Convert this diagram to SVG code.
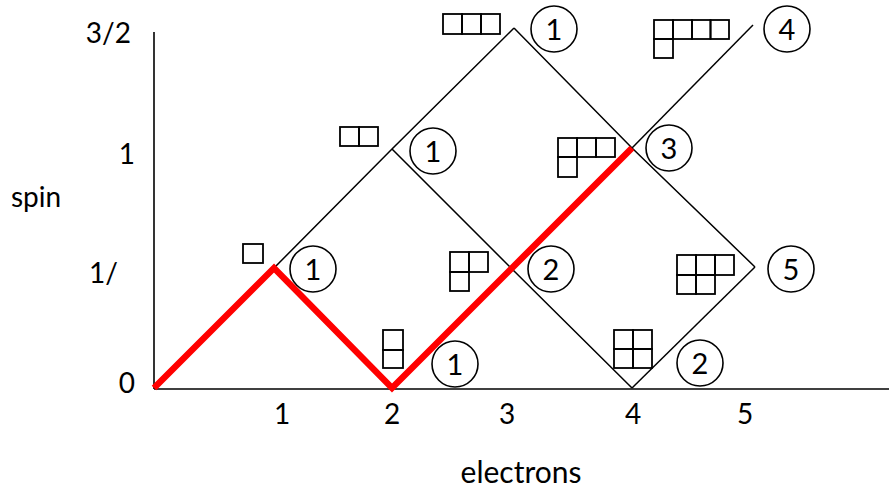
<svg xmlns="http://www.w3.org/2000/svg" width="889" height="491" viewBox="0 0 889 491">
<style>
.t{font-family:Lato,"Liberation Sans",sans-serif;font-size:28px;fill:#000}
.c{font-family:Lato,"Liberation Sans",sans-serif;font-size:29px;fill:#000;text-anchor:middle}
.ring{fill:none;stroke:#000;stroke-width:1.6}
.box{fill:none;stroke:#000;stroke-width:1.8}
.edge{fill:none;stroke:#000;stroke-width:1.5}
.red{fill:none;stroke:#ff0000;stroke-width:6.5;stroke-linejoin:miter}
.axis{fill:none;stroke:#000;stroke-width:1.6}
</style>
<rect width="889" height="491" fill="#fff"/>
<g id="axes">
<line class="axis" x1="154" y1="32" x2="154" y2="389"/>
<line class="axis" x1="154" y1="389" x2="889" y2="389"/>
<text class="t" x="131" y="43" text-anchor="end">3/2</text>
<text class="t" x="135" y="164" text-anchor="end">1</text>
<text class="t" x="11" y="207">spin</text>
<text class="t" x="118" y="283" text-anchor="end">1/</text>
<text class="t" x="135" y="393" text-anchor="end">0</text>
<text class="t" x="282" y="424" text-anchor="middle">1</text>
<text class="t" x="392" y="424" text-anchor="middle">2</text>
<text class="t" x="507" y="424" text-anchor="middle">3</text>
<text class="t" x="633" y="424" text-anchor="middle">4</text>
<text class="t" x="745" y="424" text-anchor="middle">5</text>
<text class="t" x="521" y="483" text-anchor="middle" style="font-size:30px">electrons</text>
</g>
<g id="connectors">
<polyline class="edge" points="274,268 392,149 514,28"/>
<polyline class="edge" points="514,28 632,148 755,267"/>
<polyline class="edge" points="392,149 511,268 632,388"/>
<polyline class="edge" points="632,148 753,25"/>
<polyline class="edge" points="632,388 755,267"/>
<polyline class="red" points="154,388 274,268 392,388 632,148"/>
</g>
<g id="node-3-1.5">
<rect class="box" x="443" y="14" width="19" height="20"/>
<rect class="box" x="462" y="14" width="19" height="20"/>
<rect class="box" x="481" y="14" width="19" height="20"/>
<circle class="ring" cx="554" cy="29" r="23"/>
<text class="c" x="554" y="39.5">1</text>
</g>
<g id="node-5-1.5">
<rect class="box" x="654" y="20" width="19" height="19"/>
<rect class="box" x="673" y="20" width="19" height="19"/>
<rect class="box" x="692" y="20" width="18.5" height="19"/>
<rect class="box" x="710.5" y="20" width="18.5" height="19"/>
<rect class="box" x="654" y="39" width="19" height="19"/>
<circle class="ring" cx="787" cy="29" r="23"/>
<text class="c" x="787" y="39.5">4</text>
</g>
<g id="node-2-1">
<rect class="box" x="340" y="127" width="19" height="19"/>
<rect class="box" x="359" y="127" width="19" height="19"/>
<circle class="ring" cx="433" cy="151" r="23"/>
<text class="c" x="433" y="161.5">1</text>
</g>
<g id="node-4-1">
<rect class="box" x="558" y="138" width="19" height="19"/>
<rect class="box" x="577" y="138" width="19" height="19"/>
<rect class="box" x="596" y="138" width="19" height="19"/>
<rect class="box" x="558" y="157" width="19" height="20"/>
<circle class="ring" cx="669" cy="148" r="23"/>
<text class="c" x="669" y="158.5">3</text>
</g>
<g id="node-1-0.5">
<rect class="box" x="243" y="244" width="20" height="19"/>
<circle class="ring" cx="313" cy="269" r="23"/>
<text class="c" x="313" y="279.5">1</text>
</g>
<g id="node-3-0.5">
<rect class="box" x="450" y="252" width="19" height="20"/>
<rect class="box" x="469" y="252" width="19" height="20"/>
<rect class="box" x="450" y="272" width="19" height="19"/>
<circle class="ring" cx="551" cy="269" r="23"/>
<text class="c" x="551" y="279.5">2</text>
</g>
<g id="node-5-0.5">
<rect class="box" x="677" y="255" width="19" height="20"/>
<rect class="box" x="696" y="255" width="19" height="20"/>
<rect class="box" x="715" y="255" width="19" height="20"/>
<rect class="box" x="677" y="275" width="19" height="19"/>
<rect class="box" x="696" y="275" width="19" height="19"/>
<circle class="ring" cx="791" cy="269" r="23"/>
<text class="c" x="791" y="279.5">5</text>
</g>
<g id="node-2-0">
<rect class="box" x="383" y="330" width="20" height="20"/>
<rect class="box" x="383" y="350" width="20" height="18"/>
<circle class="ring" cx="455" cy="364" r="23"/>
<text class="c" x="455" y="374.5">1</text>
</g>
<g id="node-4-0">
<rect class="box" x="614" y="330" width="19" height="19"/>
<rect class="box" x="633" y="330" width="19" height="19"/>
<rect class="box" x="614" y="349" width="19" height="19"/>
<rect class="box" x="633" y="349" width="19" height="19"/>
<circle class="ring" cx="700" cy="363" r="23"/>
<text class="c" x="700" y="373.5">2</text>
</g>
</svg>
